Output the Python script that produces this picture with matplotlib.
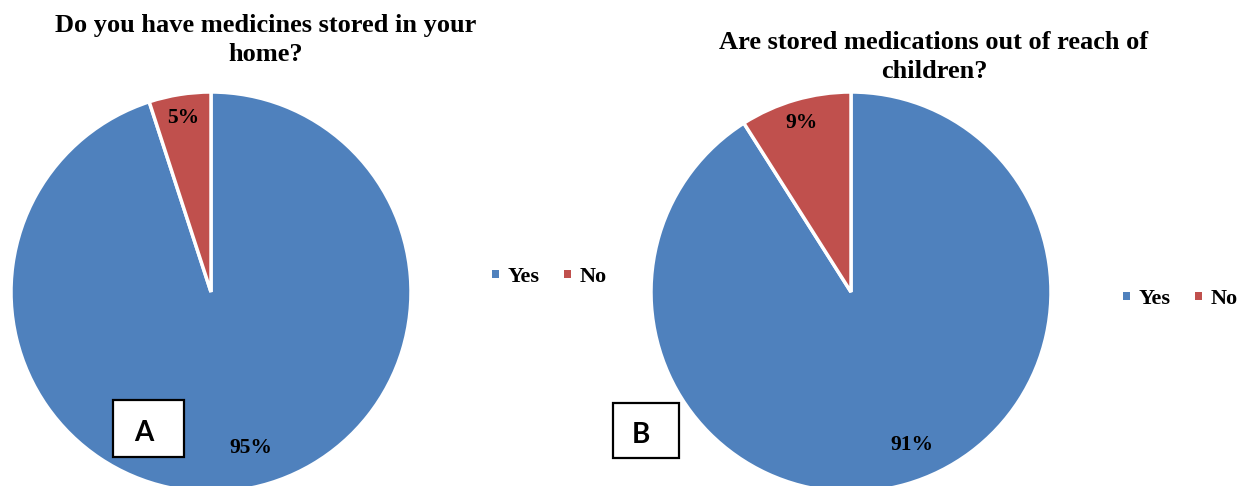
import matplotlib
matplotlib.use("Agg")
import matplotlib.pyplot as plt
from matplotlib.patches import Rectangle
import numpy as np

categories = ["Yes", "No"]
values_a = [95, 5]
values_b = [91, 9]
title_a = "Do you have medicines stored in your\nhome?"
title_b = "Are stored medications out of reach of\nchildren?"
panel_a = "A"
panel_b = "B"
colors = ["#4F81BD", "#C0504D"]

W, H = 1238, 486
fig = plt.figure(figsize=(W / 100, H / 100), dpi=100)
ax = fig.add_axes([0, 0, 1, 1])
serif = "Liberation Serif"
R = 200

def draw(values, center, title, title_xy, panel, box, legend_xy, big_d):
    wedges, texts, autos = ax.pie(
        values, colors=colors, startangle=90, counterclock=False,
        center=center, radius=R, autopct="%d%%", pctdistance=0.8,
        wedgeprops=dict(edgecolor="white", linewidth=2.5),
        textprops=dict(fontfamily=serif, fontweight="bold", fontsize=15.5, color="black"),
    )
    # label placement (Excel "best fit" style)
    for w, t in zip(wedges, autos):
        mid = np.deg2rad((w.theta1 + w.theta2) / 2)
        if (w.theta2 - w.theta1) > 180:
            mid += np.deg2rad(5.5)
            d = big_d
        else:
            d = 0.88
        t.set_position((center[0] + d * R * np.cos(mid), center[1] + d * R * np.sin(mid)))
    ax.text(title_xy[0], title_xy[1], title, ha="center", va="center",
            fontfamily=serif, fontweight="bold", fontsize=19, linespacing=1.3)
    ax.add_patch(Rectangle((box[0], box[1]), box[2], box[3], facecolor="white",
                           edgecolor="black", linewidth=1.6, zorder=5))
    ax.text(box[0] + box[2] / 2 - 5, box[1] + box[3] / 2 - 4, panel, ha="center", va="center",
            fontfamily="Lato", fontweight="bold", fontsize=20, zorder=6)
    leg = ax.legend(wedges, categories, loc="center left",
                    bbox_to_anchor=(legend_xy[0] / W, legend_xy[1] / H),
                    bbox_transform=fig.transFigure, ncol=2, frameon=False,
                    prop=dict(family=serif, weight="bold", size=16),
                    handlelength=0.3, handleheight=0.22, handletextpad=0.4,
                    columnspacing=1.1, borderpad=0, borderaxespad=0)
    for h in leg.legend_handles:
        h.set_linewidth(0)
    return leg

leg_a = draw(values_a, (211, H - 292), title_a, (266, H - 40), panel_a,
             (113, H - 457, 71, 57), (492, H - 277), 0.805)
ax.add_artist(leg_a)
draw(values_b, (851, H - 292), title_b, (934, H - 57), panel_b,
     (613, H - 458, 66, 55), (1123, H - 299), 0.825)

ax.set_xlim(0, W)
ax.set_ylim(0, H)
ax.set_aspect("auto")
ax.axis("off")
fig.savefig("out.png", dpi=100, facecolor="white")
